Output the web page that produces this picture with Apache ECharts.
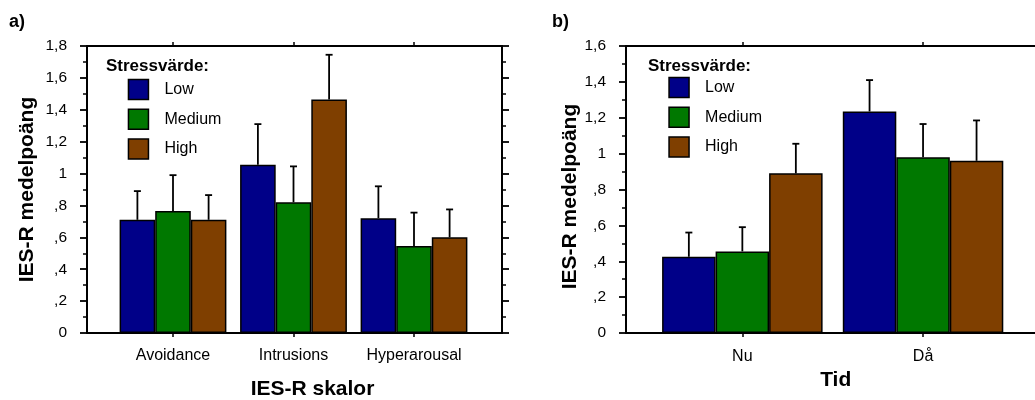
<!DOCTYPE html>
<html>
<head>
<meta charset="utf-8">
<script src="https://cdn.jsdelivr.net/npm/echarts@6/dist/echarts.min.js"></script>
<style>
  html, body { margin: 0; padding: 0; background: #fff; }
  #chart { width: 1035px; height: 400px; }
</style>
</head>
<body>
<div id="chart"></div>
<script>
// ---- Data ----
const seriesNames = ['Low', 'Medium', 'High'];

const categoriesA = ['Avoidance', 'Intrusions', 'Hyperarousal'];
const lowA = [0.71, 1.055, 0.72];
const mediumA = [0.765, 0.82, 0.545];
const highA = [0.71, 1.465, 0.60];
const lowAUpper = [0.89, 1.31, 0.92];
const mediumAUpper = [0.99, 1.045, 0.755];
const highAUpper = [0.865, 1.745, 0.775];

const categoriesB = ['Nu', 'Då'];
const lowB = [0.425, 1.235];
const mediumB = [0.455, 0.98];
const highB = [0.89, 0.96];
const lowBUpper = [0.56, 1.41];
const mediumBUpper = [0.59, 1.165];
const highBUpper = [1.055, 1.185];

const yTicksA = { min: 0, max: 1.8, interval: 0.2 };
const yTicksB = { min: 0, max: 1.6, interval: 0.2 };

// ---- Styling ----
const colors = ['#000088', '#007800', '#7f3f00'];
const FONT = '"Liberation Sans", Arial, Helvetica, sans-serif';
const barWidthA = 35.6;
const barWidthB = 53.5;

function fmtTick(v) {
  if (Math.abs(v) < 1e-9) return '0';
  let s = (Math.round(v * 10) / 10).toFixed(1).replace('.', ',');
  if (s.endsWith(',0')) s = s.slice(0, -2);
  if (s.startsWith('0,')) s = s.slice(1);
  return s;
}

const lineStyle = { color: '#000', width: 2 };

function frameX(gridIndex, position) {
  return {
    type: 'value', gridIndex, position, min: 0, max: 1,
    axisLine: { show: true, onZero: false, lineStyle },
    axisTick: { show: false }, axisLabel: { show: false },
    splitLine: { show: false }
  };
}
function catX(gridIndex, position, data, withLabels, margin, name, nameOpts) {
  const ax = {
    type: 'category', gridIndex, position, data,
    axisLine: { show: false },
    axisTick: { show: true, interval: 0, alignWithLabel: true, length: 4, lineStyle: { color: '#000', width: 1.5 } },
    axisLabel: { show: withLabels, interval: 0, hideOverlap: false, margin: margin, color: '#000', fontSize: 16, fontFamily: FONT },
    splitLine: { show: false }
  };
  if (name) Object.assign(ax, { name, nameLocation: 'middle' }, nameOpts);
  return ax;
}
function frameY(gridIndex, position, ticks, withLabels, name, nameOpts) {
  const ax = {
    type: 'value', gridIndex, position,
    min: ticks.min, max: ticks.max, interval: ticks.interval,
    axisLine: { show: true, onZero: false, lineStyle },
    axisTick: { show: true, length: 7, lineStyle: { color: '#000', width: 1.8 } },
    minorTick: { show: true, splitNumber: 2, length: 4, lineStyle: { color: '#000', width: 1.5 } },
    axisLabel: { show: withLabels, formatter: fmtTick, margin: 20, color: '#000', fontSize: 15.5, fontFamily: FONT },
    splitLine: { show: false }, minorSplitLine: { show: false }
  };
  if (name) Object.assign(ax, { name, nameLocation: 'middle' }, nameOpts);
  return ax;
}
function hiddenY(gridIndex, ticks) {
  return { type: 'value', gridIndex, min: ticks.min, max: ticks.max, show: false };
}

function barSeries(name, data, color, xAxisIndex, yAxisIndex, barWidth) {
  return {
    type: 'bar', name, data, xAxisIndex, yAxisIndex, barWidth, barGap: '0%',
    itemStyle: { color, borderColor: '#000', borderWidth: 1.5 },
    emphasis: { disabled: true }, z: 2
  };
}
function errSeries(means, uppers, k, xAxisIndex, yAxisIndex, barWidth) {
  const data = means.map((m, i) => [i, m, uppers[i]]);
  return {
    type: 'custom', name: 'err' + k, xAxisIndex, yAxisIndex, data, z: 5, silent: true,
    encode: { x: 0, y: [1, 2] },
    renderItem: function (params, api) {
      const i = api.value(0);
      const base = api.coord([i, api.value(1)]);
      const top = api.coord([i, api.value(2)]);
      const x = base[0] + (k - 1) * barWidth;
      const cap = 3.5;
      return {
        type: 'group',
        children: [
          { type: 'line', shape: { x1: x, y1: base[1], x2: x, y2: top[1] }, style: { stroke: '#000', lineWidth: 1.8 } },
          { type: 'line', shape: { x1: x - cap, y1: top[1], x2: x + cap, y2: top[1] }, style: { stroke: '#000', lineWidth: 1.8 } }
        ]
      };
    }
  };
}

const titleStyleBold = { fontFamily: FONT, fontWeight: 'bold', color: '#000' };
const nameStyle = { fontSize: 21, fontWeight: 'bold', color: '#000', fontFamily: FONT };

const option = {
  animation: false,
  backgroundColor: '#fff',
  title: [
    { text: 'a)', left: 9, top: 13, padding: 0, textStyle: Object.assign({ fontSize: 18 }, titleStyleBold) },
    { text: 'b)', left: 552, top: 13, padding: 0, textStyle: Object.assign({ fontSize: 18 }, titleStyleBold) },
    { text: 'Stressvärde:', left: 106, top: 58, padding: 0, textStyle: Object.assign({ fontSize: 17 }, titleStyleBold) },
    { text: 'Stressvärde:', left: 648, top: 58, padding: 0, textStyle: Object.assign({ fontSize: 17 }, titleStyleBold) }
  ],
  legend: [
    {
      data: seriesNames, orient: 'vertical', left: 127.7, top: 78.7, padding: 0,
      itemWidth: 20, itemHeight: 20, itemGap: 8.3, icon: 'rect', selectedMode: false,
      itemStyle: { borderColor: '#000', borderWidth: 1.5 },
      textStyle: { fontSize: 16, fontFamily: FONT, color: '#000', padding: [0, 0, 0, 11] }
    },
    {
      data: seriesNames, orient: 'vertical', left: 668.3, top: 76.7, padding: 0,
      itemWidth: 20, itemHeight: 20, itemGap: 8.3, icon: 'rect', selectedMode: false,
      itemStyle: { borderColor: '#000', borderWidth: 1.5 },
      textStyle: { fontSize: 16, fontFamily: FONT, color: '#000', padding: [0, 0, 0, 11] }
    }
  ],
  grid: [
    { left: 87, top: 46, width: 415, height: 287, outerBoundsMode: 'none' },
    { left: 112.75, top: 46, width: 361.5, height: 287, outerBoundsMode: 'none' },
    { left: 626, top: 46, width: 413, height: 287, outerBoundsMode: 'none' },
    { left: 652, top: 46, width: 361.4, height: 287, outerBoundsMode: 'none' }
  ],
  xAxis: [
    frameX(0, 'bottom'),
    frameX(0, 'top'),
    catX(1, 'bottom', categoriesA, true, 15, 'IES-R skalor',
      { nameGap: 46, nameTextStyle: Object.assign({ padding: [0, 0, 0, 38] }, nameStyle) }),
    catX(1, 'top', categoriesA, false, 8),
    frameX(2, 'bottom'),
    frameX(2, 'top'),
    catX(3, 'bottom', categoriesB, true, 16, 'Tid',
      { nameGap: 36, nameTextStyle: Object.assign({ padding: [0, 0, 0, 6] }, nameStyle) }),
    catX(3, 'top', categoriesB, false, 8)
  ],
  yAxis: [
    frameY(0, 'left', yTicksA, true, 'IES-R medelpoäng',
      { nameGap: 49, nameTextStyle: Object.assign({}, nameStyle) }),
    frameY(0, 'right', yTicksA, false),
    hiddenY(1, yTicksA),
    frameY(2, 'left', yTicksB, true, 'IES-R medelpoäng',
      { nameGap: 45, nameTextStyle: Object.assign({ padding: [0, 14, 0, 0] }, nameStyle) }),
    frameY(2, 'right', yTicksB, false),
    hiddenY(3, yTicksB)
  ],
  series: [
    barSeries('Low', lowA, colors[0], 2, 2, barWidthA),
    barSeries('Medium', mediumA, colors[1], 2, 2, barWidthA),
    barSeries('High', highA, colors[2], 2, 2, barWidthA),
    errSeries(lowA, lowAUpper, 0, 2, 2, barWidthA),
    errSeries(mediumA, mediumAUpper, 1, 2, 2, barWidthA),
    errSeries(highA, highAUpper, 2, 2, 2, barWidthA),
    barSeries('Low', lowB, colors[0], 6, 5, barWidthB),
    barSeries('Medium', mediumB, colors[1], 6, 5, barWidthB),
    barSeries('High', highB, colors[2], 6, 5, barWidthB),
    errSeries(lowB, lowBUpper, 0, 6, 5, barWidthB),
    errSeries(mediumB, mediumBUpper, 1, 6, 5, barWidthB),
    errSeries(highB, highBUpper, 2, 6, 5, barWidthB)
  ]
};

const chart = echarts.init(document.getElementById('chart'), null, { renderer: 'canvas' });
chart.setOption(option);
</script>
</body>
</html>
